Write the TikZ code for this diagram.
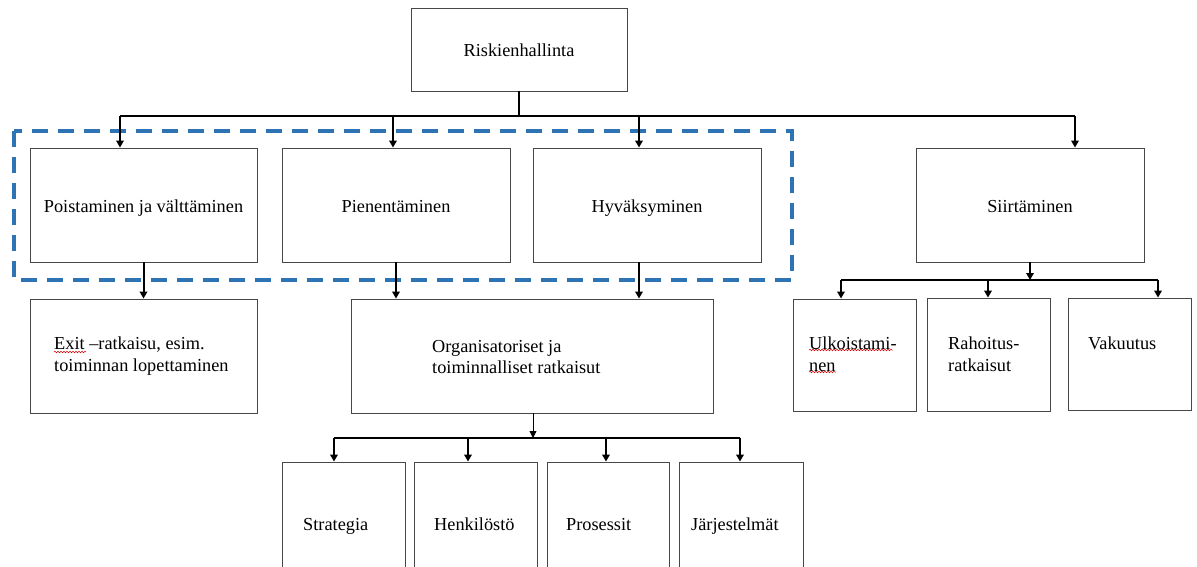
\documentclass[tikz,border=0pt]{standalone}
\usepackage{fontspec}
\setmainfont{Liberation Serif}
\usetikzlibrary{arrows.meta,decorations.pathmorphing}
\definecolor{dblue}{RGB}{46,116,181}
\begin{document}
\begin{tikzpicture}[x=1pt,y=-1pt,
  box/.style={draw=black!72, line width=0.9pt, fill=white, inner sep=0pt,
    font=\fontsize{18.3}{21.5}\selectfont, text height=16pt, text depth=2pt},
  lbl/.style={font=\fontsize{18.3}{21.5}\selectfont, inner sep=0pt, align=left},
  conn/.style={line width=2pt, black},
  arr/.style={conn, -{Triangle[length=7pt,width=7.5pt]}},
  thinarr/.style={line width=0.8pt, black, -{Triangle[length=7pt,width=7pt]}},
  dashbox/.style={draw=dblue, line width=3.5pt, dash pattern=on 16pt off 10pt},
  squig/.style={draw=red!85!black, line width=0.5pt, decorate,
    decoration={snake, amplitude=0.8pt, segment length=3pt}}]
\useasboundingbox (0,0) rectangle (1197,566);
\clip (0,0) rectangle (1197,566);
\fill[white] (0,0) rectangle (1197,566);

% dashed group frame
\draw[dashbox] (14,131) rectangle (792,280);

% top
\node[box, minimum width=216pt, minimum height=83pt] (R) at (519,49.5) {Riskienhallinta};

% level 2
\node[box, minimum width=227pt, minimum height=114pt] (P)  at (143.5,205) {Poistaminen ja välttäminen};
\node[box, minimum width=228pt, minimum height=114pt] (Pi) at (396,205) {Pienentäminen};
\node[box, minimum width=228pt, minimum height=114pt] (H)  at (647,205) {Hyväksyminen};
\node[box, minimum width=228pt, minimum height=114pt] (S)  at (1030,205) {Siirtäminen};

% level 3
\node[box, minimum width=227pt, minimum height=114pt] (E) at (143.5,356) {};
\node[lbl, anchor=west] (Et) at (54,356) {Exit –ratkaisu, esim.\\toiminnan lopettaminen};
\node[box, minimum width=362pt, minimum height=114pt] (O) at (532,356) {};
\node[lbl, anchor=west] (Ot) at (432,357) {Organisatoriset ja\\toiminnalliset ratkaisut};
\node[box, minimum width=123pt, minimum height=112pt] (U) at (854.5,355) {};
\node[lbl, anchor=west] (Ut) at (809,354) {Ulkoistami-\\nen};
\node[box, minimum width=123pt, minimum height=113pt] (Ra) at (988.5,354.5) {};
\node[lbl, anchor=west] (Rat) at (948,354) {Rahoitus-\\ratkaisut};
\node[box, minimum width=123pt, minimum height=112pt] (V) at (1129.5,354) {};
\node[lbl, anchor=base west] (Vt) at (1088,349) {Vakuutus};

% level 4
\node[box, minimum width=123pt, minimum height=140pt] (St) at (343.5,532) {};
\node[lbl, anchor=base west] (Stt) at (303,530) {Strategia};
\node[box, minimum width=123pt, minimum height=140pt] (He) at (475.5,532) {};
\node[lbl, anchor=base west] (Het) at (434,530) {Henkilöstö};
\node[box, minimum width=122pt, minimum height=140pt] (Pr) at (608,532) {};
\node[lbl, anchor=base west] (Prt) at (566,530) {Prosessit};
\node[box, minimum width=124pt, minimum height=140pt] (J) at (741,532) {};
\node[lbl, anchor=base west] (Jt) at (691,530) {Järjestelmät};

% spell-check squiggles
\draw[squig] (54,352) -- (86,352);
\draw[squig] (809,350) -- (893,350);
\draw[squig] (809,372) -- (836,372);

% top bus
\coordinate (b0) at (519,116);
\coordinate (b1) at (120,116);
\coordinate (b2) at (393,116);
\coordinate (b3) at (639,116);
\coordinate (b4) at (1075,116);
\draw[line width=2.6pt] (R.south) -- (b0);
\draw[conn] (b1) -- (b4);
\draw[arr] (b1) -- (b1 |- P.north);
\draw[arr] (b2) -- (b2 |- Pi.north);
\draw[arr] (b3) -- (b3 |- H.north);
\draw[arr] (b4) -- (b4 |- S.north);

% level 2 -> level 3
\draw[arr] (P.south) -- (E.north);
\draw[arr] (Pi.south) -- (Pi.south |- O.north);
\coordinate (h1) at (639,262);
\draw[arr] (h1) -- (h1 |- O.north);

% Siirtaminen bus
\coordinate (s0) at (1030,280);
\coordinate (s1) at (841,280);
\coordinate (s2) at (988,280);
\coordinate (s3) at (1158,280);
\draw[arr] (S.south) -- (s0);
\draw[conn] (s1) -- (s3);
\draw[arr] (s1) -- (s1 |- U.north);
\draw[arr] (s2) -- (s2 |- Ra.north);
\draw[arr] (s3) -- (s3 |- V.north);

% Organisatoriset bus
\coordinate (o0) at (533,438);
\coordinate (o1) at (334,438);
\coordinate (o2) at (468,438);
\coordinate (o3) at (606,438);
\coordinate (o4) at (740,438);
\draw[thinarr] (O.south -| o0) -- (o0);
\draw[conn] (o1) -- (o4);
\draw[arr] (o1) -- (o1 |- St.north);
\draw[arr] (o2) -- (o2 |- He.north);
\draw[arr] (o3) -- (o3 |- Pr.north);
\draw[arr] (o4) -- (o4 |- J.north);
\end{tikzpicture}
\end{document}
